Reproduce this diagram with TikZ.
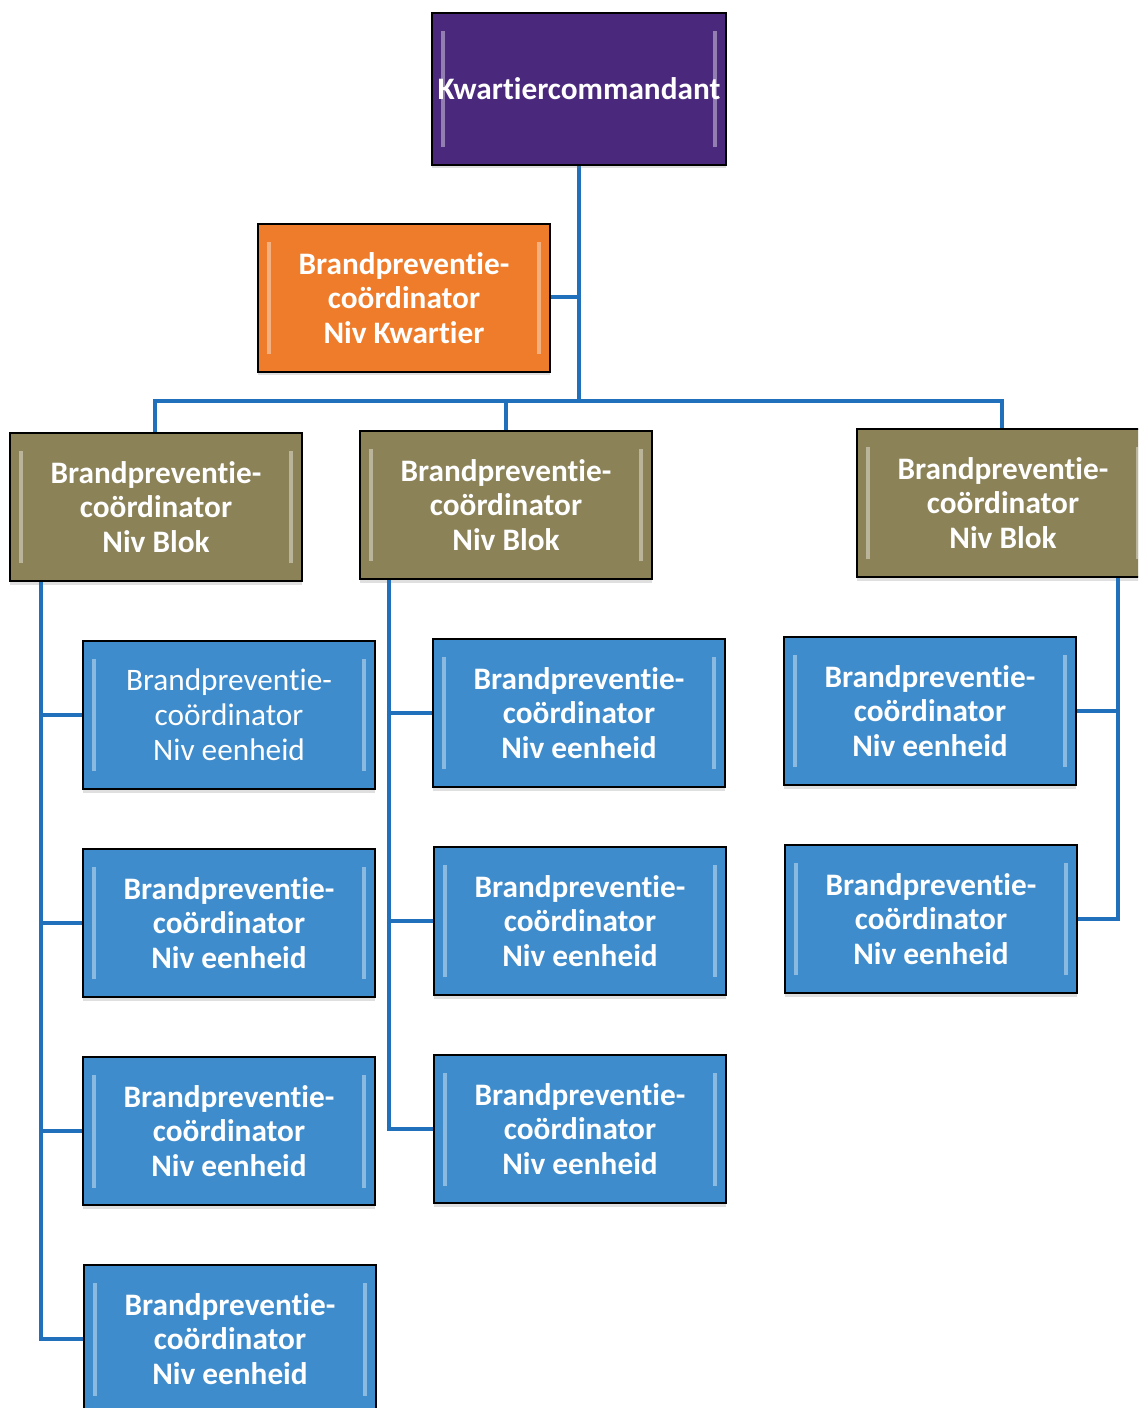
\documentclass[tikz,border=0pt]{standalone}
\usepackage{fontspec}
\setmainfont[Ligatures = {NoCommon, NoContextual}, Contextuals = NoAlternate]{Carlito}
\usepackage{tikz}
\usetikzlibrary{shadows}

\definecolor{kcpurple}{RGB}{74,40,124}
\definecolor{kcorange}{RGB}{238,124,42}
\definecolor{kcolive}{RGB}{139,130,88}
\definecolor{kcblue}{RGB}{62,140,204}
\definecolor{kcline}{RGB}{32,112,188}

\tikzset{
  box/.style = {draw = black, line width = 1.4pt, align = center, text = white,
    minimum width = 5.84cm, minimum height = 2.96cm, inner sep = 0pt,
    font = \fontsize{17.8}{19.8}\selectfont\bfseries,
    drop shadow = {opacity = .25, shadow xshift = 0pt, shadow yshift = -2pt},
    path picture = {
      \draw[white, opacity = .4, line width = 2pt]
        ([xshift = .22cm, yshift = .35cm]path picture bounding box.south west) --
        ([xshift = .22cm, yshift = -.35cm]path picture bounding box.north west);
      \draw[white, opacity = .4, line width = 2pt]
        ([xshift = -.22cm, yshift = .35cm]path picture bounding box.south east) --
        ([xshift = -.22cm, yshift = -.35cm]path picture bounding box.north east);
    }},
  kwartier/.style = {box, fill = kcpurple, minimum width = 5.88cm, minimum height = 3.04cm},
  kbpc/.style = {box, fill = kcorange},
  blok/.style = {box, fill = kcolive},
  eenheid/.style = {box, fill = kcblue},
  link/.style = {draw = kcline, line width = 2.4pt}
}

\begin{document}
\begin{tikzpicture}[x = 0.02cm, y = -0.02cm]
\clip (0,0) rectangle (1138,1408);
\fill[white] (0,0) rectangle (1138,1408);

\coordinate (bus) at (579,401);

\draw[link] (579,165) -- (bus);
\draw[link] (404,297) -- (579,297);
\draw[link] (155,433) |- (bus) -| (1002,433);
\draw[link] (506,401) -- (506,433);

\node[kwartier] (kc) at (579,89) {Kwartiercommandant};
\node[kbpc] (bpk) at (404,298) {Brandpreventie-\\coördinator\\Niv Kwartier};

\node[blok] (blok1) at (156,507) {Brandpreventie-\\coördinator\\Niv Blok};
\node[blok] (blok2) at (506,505) {Brandpreventie-\\coördinator\\Niv Blok};
\node[blok] (blok3) at (1003,503) {Brandpreventie-\\coördinator\\Niv Blok};

\node[eenheid, font = \fontsize{17.8}{19.8}\selectfont] (e11) at (229,715) {Brandpreventie-\\coördinator\\Niv eenheid};
\node[eenheid] (e12) at (229,923) {Brandpreventie-\\coördinator\\Niv eenheid};
\node[eenheid] (e13) at (229,1131) {Brandpreventie-\\coördinator\\Niv eenheid};
\node[eenheid] (e14) at (230,1339) {Brandpreventie-\\coördinator\\Niv eenheid};

\node[eenheid] (e21) at (579,713) {Brandpreventie-\\coördinator\\Niv eenheid};
\node[eenheid] (e22) at (580,921) {Brandpreventie-\\coördinator\\Niv eenheid};
\node[eenheid] (e23) at (580,1129) {Brandpreventie-\\coördinator\\Niv eenheid};

\node[eenheid] (e31) at (930,711) {Brandpreventie-\\coördinator\\Niv eenheid};
\node[eenheid] (e32) at (931,919) {Brandpreventie-\\coördinator\\Niv eenheid};

\coordinate (s1) at ([xshift = 0.64cm]blok1.south west);
\coordinate (s2) at ([xshift = 0.6cm]blok2.south west);
\coordinate (s3) at ([xshift = 2.3cm]blok3.south);

\foreach \i in {1,...,4} \draw[link] (s1) |- (e1\i.west);
\foreach \i in {1,...,3} \draw[link] (s2) |- (e2\i.west);
\foreach \i in {1,2} \draw[link] (s3) |- (e3\i.east);
\end{tikzpicture}
\end{document}
